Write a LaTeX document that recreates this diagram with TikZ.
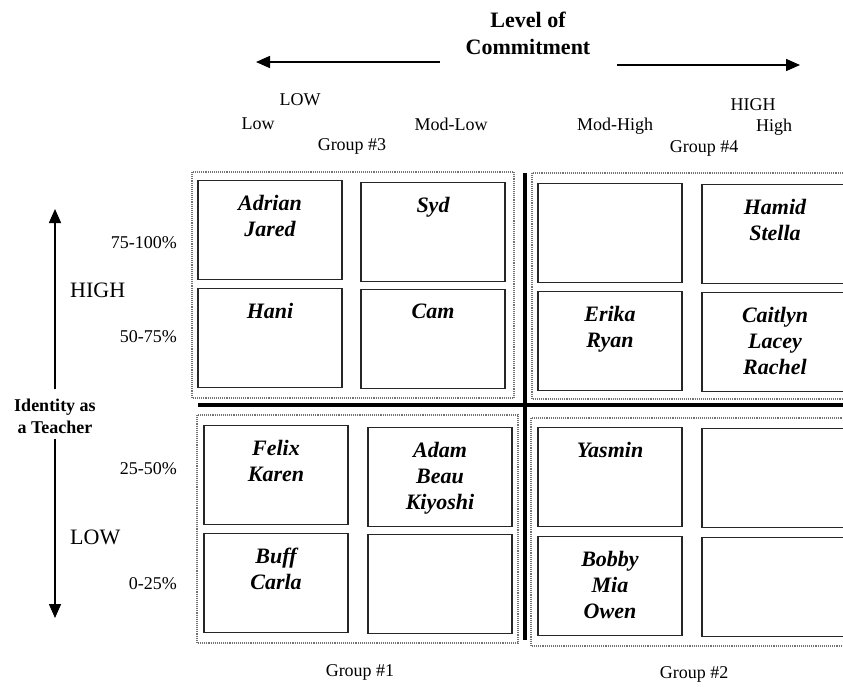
\documentclass[tikz,border=0pt]{standalone}
\usepackage{fontspec}
\setmainfont{Liberation Serif}
\usetikzlibrary{arrows.meta,positioning}

\begin{document}
\begin{tikzpicture}[
    x=1pt, y=-1pt,
    >={Triangle[length=14pt,width=12pt]},
    cell/.style={draw=black!85, line width=1.3pt, minimum width=144pt, minimum height=99pt, inner sep=0pt},
    grp/.style={draw=black!55, densely dotted, line width=1.1pt},
    who/.style={font=\fontsize{22}{26}\selectfont\bfseries\itshape, align=center, inner sep=0pt},
    lbl/.style={font=\fontsize{18}{22}\selectfont, inner sep=0pt},
    big/.style={font=\fontsize{22}{26}\selectfont, inner sep=0pt},
    head/.style={font=\fontsize{22}{27}\selectfont\bfseries, align=center, inner sep=0pt},
    axis/.style={->, line width=1.5pt},
    divider/.style={line width=3.5pt},
]
\useasboundingbox (0,0) rectangle (843,686);

% commitment axis
\node[head] (title) at (528,33) {Level of\\Commitment};
\coordinate (lowtail) at (440,62);
\coordinate (lowtip) at (256,62);
\coordinate (hightail) at (617,65);
\coordinate (hightip) at (800,65);
\draw[axis] (lowtail) -- (lowtip);
\draw[axis] (hightail) -- (hightip);

\node[lbl] (cLOW) at (300,100) {LOW};
\node[lbl] (cLow) at (258,124) {Low};
\node[lbl] (g3lbl) at (352,146) {Group \#3};
\node[lbl] (cModLow) at (451,124) {Mod-Low};
\node[lbl] (cModHigh) at (615,126) {Mod-High};
\node[lbl] (cHIGH) at (753,105) {HIGH};
\node[lbl] (cHigh) at (774,127) {High};
\node[lbl] (g4lbl) at (704,148) {Group \#4};

% identity axis
\node[font=\fontsize{18}{22}\selectfont\bfseries, align=center, inner sep=0pt] (ident) at (55,416) {Identity as\\a Teacher};
\coordinate (idhigh) at (55,209);
\coordinate (idlow) at (55,618);
\draw[axis, shorten <=9pt] (ident) -- (idhigh);
\draw[axis, shorten <=5pt] (ident) -- (idlow);

\node[big, anchor=west] (iHIGH) at (70,290) {HIGH};
\node[big, anchor=west] (iLOW) at (70,537) {LOW};
\node[lbl, anchor=east] (p4) at (177,243) {75-100\%};
\node[lbl, anchor=east] (p3) at (177,337) {50-75\%};
\node[lbl, anchor=east] (p2) at (177,469) {25-50\%};
\node[lbl, anchor=east] (p1) at (177,584) {0-25\%};

% dividers
\coordinate (vtop) at (525,173);
\coordinate (vbot) at (525,640);
\coordinate (hleft) at (198,405);
\coordinate (hright) at (843,405);
\draw[divider] (vtop) -- (vbot);
\draw[divider] (hleft) -- (hright);

% group 3
\draw[grp] (192,172) rectangle (514,398);
\node[cell] (c3a) at (270,230) {};
\node[cell] (c3b) at (433,232) {};
\node[cell] (c3c) at (270,338) {};
\node[cell] (c3d) at (433,339) {};
\node[who, below=15pt of c3a.north] (n3a) {Adrian\\Jared};
\node[who, below=15pt of c3b.north] (n3b) {Syd};
\node[who, below=15pt of c3c.north] (n3c) {Hani};
\node[who, below=15pt of c3d.north] (n3d) {Cam};

% group 4
\draw[grp] (532,173) rectangle (852,399);
\node[cell] (c4a) at (610,233) {};
\node[cell, minimum width=146pt] (c4b) at (775,234) {};
\node[cell] (c4c) at (610,341) {};
\node[cell, minimum width=146pt] (c4d) at (775,342) {};
\node[who, below=15pt of c4b.north] (n4b) {Hamid\\Stella};
\node[who, below=15pt of c4c.north] (n4c) {Erika\\Ryan};
\node[who, below=15pt of c4d.north] (n4d) {Caitlyn\\Lacey\\Rachel};

% group 1
\draw[grp] (197,415) rectangle (518,643);
\node[cell] (c1a) at (276,475) {};
\node[cell] (c1b) at (440,477) {};
\node[cell] (c1c) at (276,583) {};
\node[cell] (c1d) at (440,584) {};
\node[who, below=15pt of c1a.north] (n1a) {Felix\\Karen};
\node[who, below=15pt of c1b.north] (n1b) {Adam\\Beau\\Kiyoshi};
\node[who, below=15pt of c1c.north] (n1c) {Buff\\Carla};
\node[lbl] (g1lbl) at (360,672) {Group \#1};

% group 2
\draw[grp] (531,418) rectangle (852,646);
\node[cell] (c2a) at (610,477) {};
\node[cell, minimum width=146pt] (c2b) at (775,478) {};
\node[cell] (c2c) at (610,586) {};
\node[cell, minimum width=146pt] (c2d) at (775,587) {};
\node[who, below=15pt of c2a.north] (n2a) {Yasmin};
\node[who, below=15pt of c2c.north] (n2c) {Bobby\\Mia\\Owen};
\node[lbl] (g2lbl) at (694,674) {Group \#2};

\end{tikzpicture}
\end{document}
